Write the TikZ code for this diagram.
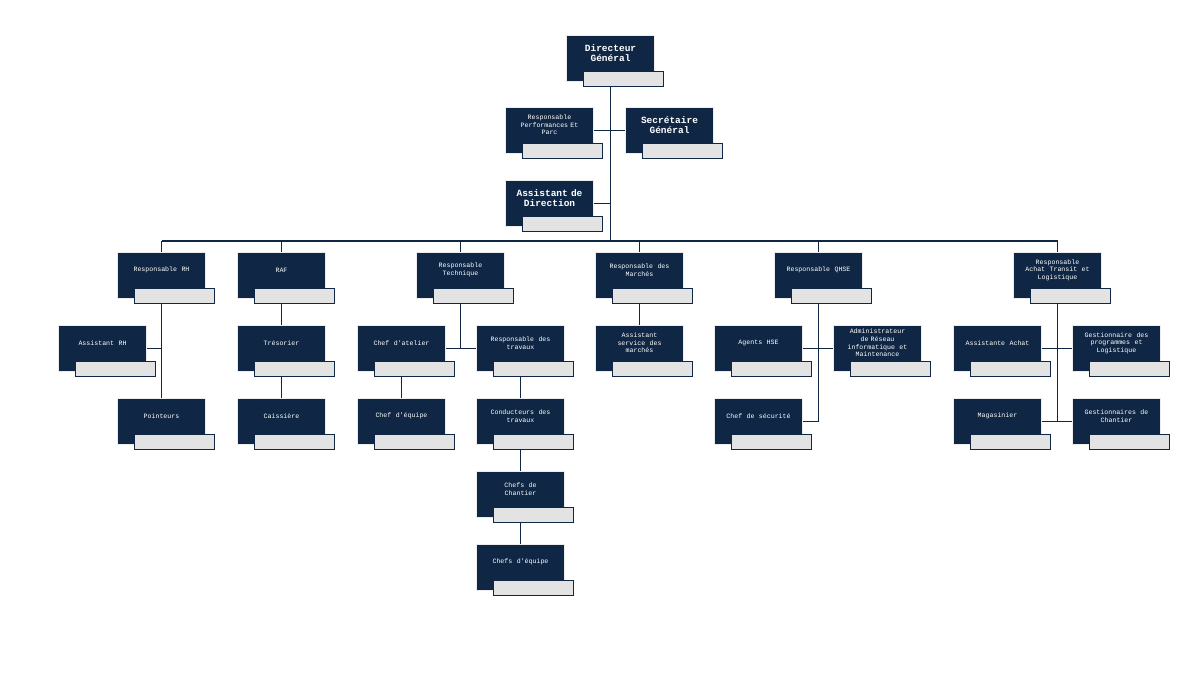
\documentclass[tikz,border=0pt]{standalone}
\usepackage{fontspec}
\setmonofont{Liberation Mono}
\usetikzlibrary{calc,backgrounds}
\definecolor{navy}{HTML}{0F2744}
\tikzset{
  dark/.style={draw=gray!15,line width=1pt,fill=navy,minimum width=88pt,minimum height=46pt,inner sep=0pt,anchor=north west},
  grayb/.style={draw=navy,line width=1.2pt,fill=gray!22,minimum width=80pt,minimum height=15pt,inner sep=0pt,anchor=north west},
  txt/.style={text=white,align=center,text width=86pt,inner sep=0pt,font=\ttfamily\fontsize{6.6}{7.6}\selectfont},
  big/.style={font=\ttfamily\bfseries\fontsize{9.5}{10.5}\selectfont},
  conn/.style={draw=navy,line width=1.8pt}
}
\newcommand\card[5][]{%
  \node[dark] (#2) at (#3,#4) {};
  \node[grayb] (#2g) at ($(#2.north west)+(17,36)$) {};
  \node[txt,#1] (#2t) at ($(#2.north)+(0,18)$) {#5};}
\begin{document}
\begin{tikzpicture}[x=1pt,y=-1pt]
\useasboundingbox (0,0) rectangle (1200,675);
\coordinate (bus) at (0,241);
\card[big]{dg}{566}{35}{Directeur\\Général}
\card{perf}{505}{107}{Responsable\\Performances Et\\Parc}
\card[big]{sec}{625}{107}{Secrétaire\\Général}
\card[big]{ad}{505}{180}{Assistant de\\Direction}
\card{rh}{117}{252}{Responsable~ RH}
\card{raf}{237}{252}{RAF}
\card{rt}{416}{252}{Responsable\\Technique}
\card{rm}{595}{252}{Responsable~ des\\Marchés}
\card{qh}{774}{252}{Responsable~ QHSE}
\card{ach}{1013}{252}{Responsable\\Achat~ Transit~ et\\Logistique}
\card{arh}{58}{325}{Assistant~ RH}
\card{tre}{237}{325}{Trésorier}
\card{ca}{357}{325}{Chef~ d'atelier}
\card{rtr}{476}{325}{Responsable~ des\\travaux}
\card{asm}{595}{325}{Assistant\\service~ des\\marchés}
\card{ahse}{714}{325}{Agents~ HSE}
\card{adm}{833}{325}{Administrateur\\de Réseau\\informatique~ et\\Maintenance}
\card{aa}{953}{325}{Assistante~ Achat}
\card{gp}{1072}{325}{Gestionnaire~ des\\programmes~ et\\Logistique}
\card{pt}{117}{398}{Pointeurs}
\card{cai}{237}{398}{Caissière}
\card{ce}{357}{398}{Chef~ d'équipe}
\card{cond}{476}{398}{Conducteurs~ des\\travaux}
\card{cs}{714}{398}{Chef~ de~ sécurité}
\card{mag}{953}{398}{Magasinier}
\card{gc}{1072}{398}{Gestionnaires~ de\\Chantier}
\card{cc}{476}{471}{Chefs~ de\\Chantier}
\card{cce}{476}{544}{Chefs~ d'équipe}
\begin{scope}[on background layer]
\draw[conn] (dg) -- (dg |- bus);
\draw[conn] (perf.east) -- (sec.west);
\draw[conn] (ad.east) -- (ad.east -| dg);
\draw[conn] (bus -| rh) -- (bus -| ach);
\foreach \n in {rh,raf,rt,rm,qh,ach} \draw[conn] (bus -| \n) -- (\n);
\draw[conn] (rh) -- (pt);
\draw[conn] (arh.east) -- (arh.east -| rh);
\draw[conn] (raf) -- (tre) -- (cai);
\draw[conn] (rt) -- (rt |- rtr.west);
\draw[conn] (ca.east) -- (rtr.west);
\draw[conn] (ca) -- (ce);
\draw[conn] (rtr) -- (cond) -- (cc) -- (cce);
\draw[conn] (rm) -- (asm);
\draw[conn] (qh) -- (qh |- cs.east) -- (cs.east);
\draw[conn] (ahse.east) -- (adm.west);
\draw[conn] (ach) -- (ach |- mag.east) -- (mag.east);
\draw[conn] (aa.east) -- (gp.west);
\draw[conn] (ach |- gc.west) -- (gc.west);
\end{scope}
\end{tikzpicture}
\end{document}
